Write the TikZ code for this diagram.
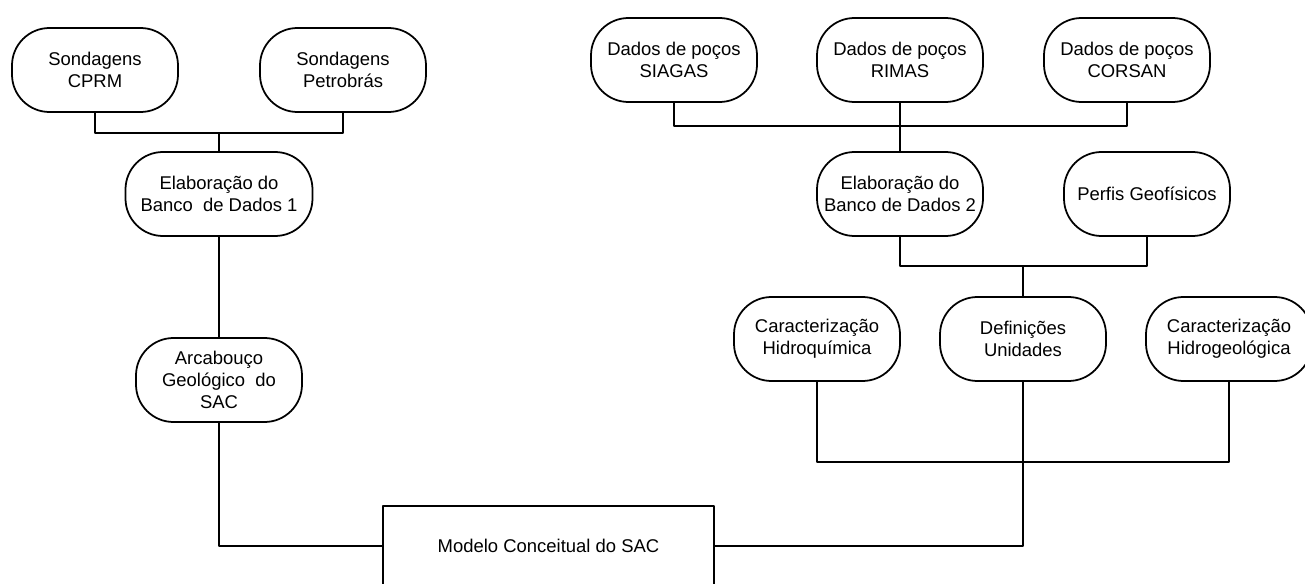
\documentclass[tikz,border=0pt]{standalone}
\usepackage{fontspec}
\setmainfont{Liberation Sans}
\begin{document}
\begin{tikzpicture}[x=0.2mm,y=-0.2mm,line width=1pt,line join=round,font=\fontsize{10.5}{12.6}\selectfont]
	\tikzset{caixa/.style={draw,rounded corners=7.5mm,minimum width=33.2mm,minimum height=16.8mm,inner sep=0pt,align=center}}
	\tikzset{modelo/.style={draw,rectangle,minimum width=66.2mm,minimum height=16mm,inner sep=0pt}}
	\useasboundingbox (0,0) rectangle (1305,584);
	
	% --- Ramo esquerdo ---
	\node[caixa] (cprm) at (95,70) {Sondagens\\CPRM};
	\node[caixa] (petro) at (343,70) {Sondagens\\Petrobrás};
	\node[caixa,minimum width=37.4mm] (banco1) at (219,194) {Elaboração do\\Banco\ \ de Dados 1};
	\node[caixa] (arcab) at (219,380) {Arcabouço\\Geológico\ \ do\\SAC};
	
	% --- Ramo direito ---
	\node[caixa] (siagas) at (674,60) {Dados de poços\\SIAGAS};
	\node[caixa] (rimas) at (900,60) {Dados de poços\\RIMAS};
	\node[caixa] (corsan) at (1127,60) {Dados de poços\\CORSAN};
	\node[caixa] (banco2) at (900,194) {Elaboração do\\Banco de Dados 2};
	\node[caixa] (perfis) at (1147,194) {Perfis Geofísicos};
	\node[caixa] (hidroq) at (817,339) {Caracterização\\Hidroquímica};
	\node[caixa] (defin) at (1023,339) {Definições\\Unidades};
	\node[caixa] (hidrog) at (1229,339) {Caracterização\\Hidrogeológica};
	
	% --- Modelo final ---
	\node[modelo] (mod) at (548.5,546) {Modelo Conceitual do SAC};
	
	% --- Ligações ---
	\coordinate (j1) at (219,133);
	\coordinate (j2) at (900,126);
	\coordinate (j3) at (1023,266);
	\coordinate (j4) at (1023,462);
	\draw (cprm.south) |- (j1) -| (petro.south);
	\draw (j1) -- (banco1.north);
	\draw (banco1.south) -- (arcab.north);
	\draw (arcab.south) |- (mod.west);
	\draw (siagas.south) |- (j2) -| (corsan.south);
	\draw (rimas.south) -- (banco2.north);
	\draw (banco2.south) |- (j3) -| (perfis.south);
	\draw (j3) -- (defin.north);
	\draw (hidroq.south) |- (j4) -| (hidrog.south);
	\draw (defin.south) |- (mod.east);
\end{tikzpicture}
\end{document}
